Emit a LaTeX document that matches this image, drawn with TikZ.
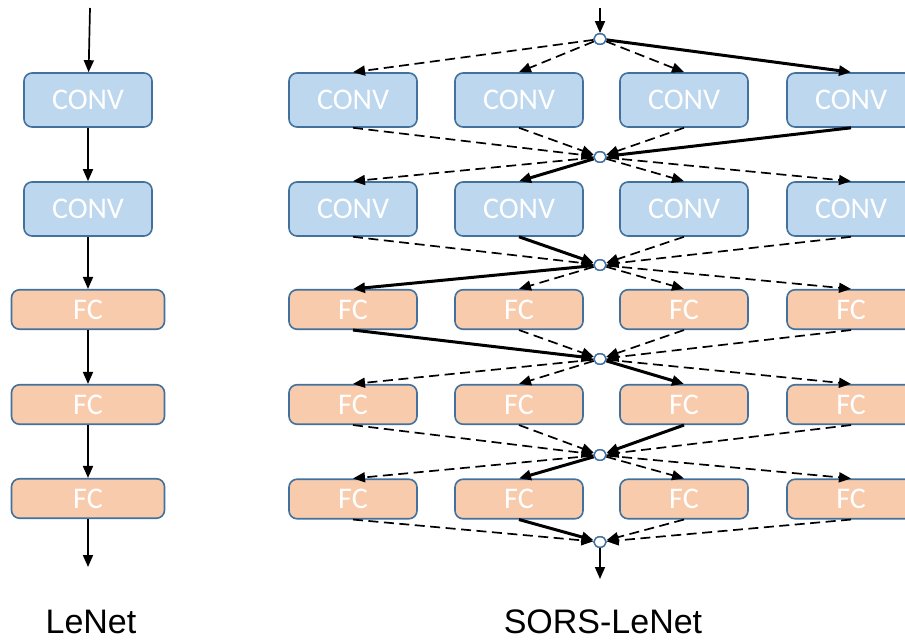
\documentclass[tikz,border=0pt]{standalone}
\usepackage{fontspec}
\newfontfamily\boxfont{Carlito}
\newfontfamily\labelfont{Liberation Sans}
\usetikzlibrary{arrows.meta,shapes.geometric}
\definecolor{convfill}{HTML}{BDD7EE}
\definecolor{fcfill}{HTML}{F8CBAD}
\definecolor{outline}{HTML}{41719C}

\begin{document}
\begin{tikzpicture}[x=1pt,y=-1pt,
  layer/.style={draw=outline, line width=1.6pt, rounded corners=8pt,
    text=white, font=\boxfont\fontsize{30}{30}\selectfont, inner sep=0pt,
    minimum width=128pt},
  convbox/.style={layer, fill=convfill, minimum height=54pt},
  fcbox/.style={layer, fill=fcfill, minimum height=39.5pt},
  junction/.style={ellipse, draw=outline, fill=white, line width=1.4pt,
    minimum width=12pt, minimum height=10.5pt, inner sep=0pt},
  flow/.style={-{Triangle[length=12pt,width=10pt]}, line width=1.7pt},
  alt/.style={flow, dash pattern=on 10pt off 5.5pt},
  chosen/.style={flow, line width=3pt},
  caption/.style={font=\labelfont\fontsize{34}{34}\selectfont, anchor=base, inner sep=0pt}
]
\clip (0,0) rectangle (905,640);

% ---------------- LeNet: plain chain ----------------
\coordinate (lin) at (90,8);
\node[convbox] (l1) at (88,100) {CONV};
\node[convbox] (l2) at (88,209) {CONV};
\node[fcbox, minimum width=153pt] (l3) at (88,309.5) {FC};
\node[fcbox, minimum width=153pt] (l4) at (88,404.5) {FC};
\node[fcbox, minimum width=153pt] (l5) at (88,498.5) {FC};
\coordinate (lout) at (88,567);
\draw[flow] (lin) -- (l1);
\draw[flow] (l1) -- (l2);
\draw[flow] (l2) -- (l3);
\draw[flow] (l3) -- (l4);
\draw[flow] (l4) -- (l5);
\draw[flow] (l5) -- (lout);

% ---------------- SORS-LeNet: four candidates per layer ----------------
\foreach \c/\x in {1/353,2/519,3/684,4/851} {
  \node[convbox] (r1c\c) at (\x,100) {CONV};
  \node[convbox] (r2c\c) at (\x,209) {CONV};
  \node[fcbox]   (r3c\c) at (\x,309.5) {FC};
  \node[fcbox]   (r4c\c) at (\x,404.5) {FC};
  \node[fcbox]   (r5c\c) at (\x,499) {FC};
}

\coordinate (rin) at (600,8);
\foreach \j/\y in {0/39,1/157,2/265,3/359,4/455,5/542}
  \node[junction] (j\j) at (600,\y) {};
\coordinate (rout) at (600,579);

\draw[flow] (rin) -- (j0);
\draw[flow] (j5) -- (rout);

% selected path through the candidates: column per layer
\foreach \r/\p/\sel in {1/0/4,2/1/2,3/2/1,4/3/3,5/4/2} {
  \foreach \c in {1,2,3,4} {
    \ifnum\c=\sel
      \draw[chosen] (j\p) -- (r\r c\c.north);
      \draw[chosen] (r\r c\c.south) -- (j\r);
    \else
      \draw[alt] (j\p) -- (r\r c\c.north);
      \draw[alt] (r\r c\c.south) -- (j\r);
    \fi
  }
}
% junction markers drawn again on top of the connectors
\foreach \j/\y in {0/39,1/157,2/265,3/359,4/455,5/542}
  \node[junction] at (600,\y) {};

% ---------------- captions ----------------
\node[caption] (lenet) at (91,633) {LeNet};
\node[caption] (sors) at (603,633) {SORS-LeNet};
\end{tikzpicture}
\end{document}
